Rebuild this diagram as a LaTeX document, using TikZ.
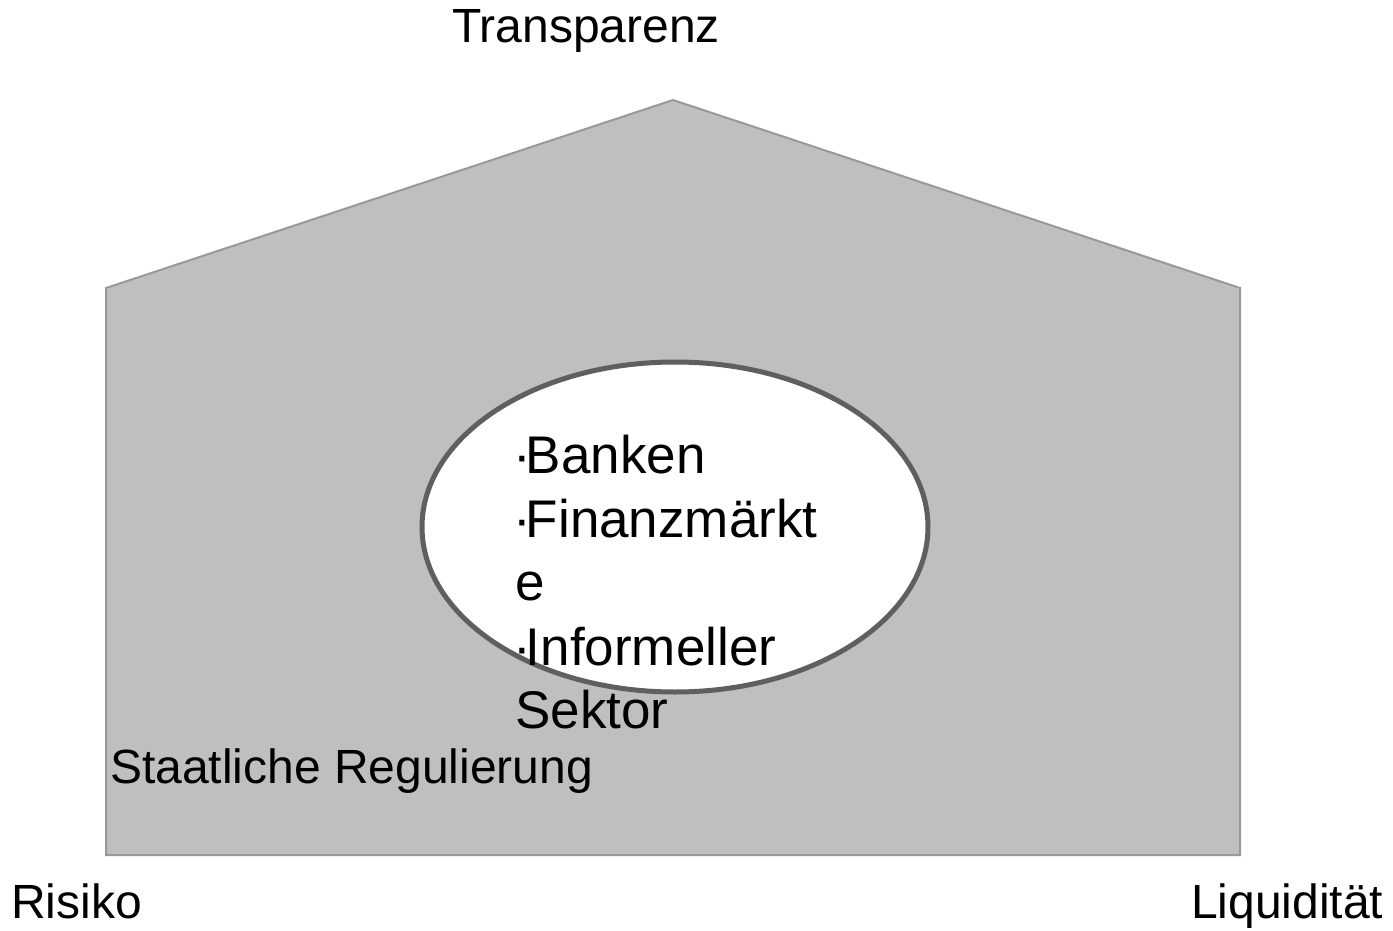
\documentclass[tikz,border=0pt]{standalone}
\usepackage{fontspec}
\setmainfont{Liberation Sans}
\usetikzlibrary{shapes.geometric}
\definecolor{housefill}{HTML}{BFBFBF}
\definecolor{housedraw}{HTML}{999999}
\definecolor{ringdraw}{HTML}{5F5F5F}
\newcommand{\bdot}{·\kern-5pt}
\begin{document}
\begin{tikzpicture}[x=1pt,y=-1pt,
  lbl/.style={inner sep=0pt,anchor=base west,font=\fontsize{48}{56}\selectfont},
  itm/.style={inner sep=0pt,anchor=base west,font=\fontsize{53}{64}\selectfont}]
\useasboundingbox (0,0) rectangle (1393,931);
\coordinate (p1) at (106,288);
\coordinate (p2) at (673,100);
\coordinate (p3) at (1240,288);
\coordinate (p4) at (1240,855);
\coordinate (p5) at (106,855);
\path[fill=housefill,draw=housedraw,line width=2pt,line join=miter] (p1) -- (p2) -- (p3) -- (p4) -- (p5) -- cycle;
\node[ellipse,draw=ringdraw,line width=5pt,fill=white,minimum width=506pt,minimum height=330pt,inner sep=0pt] (ring) at (675,527) {};
\node[itm] (i1) at (513,473) {\bdot Banken};
\node[itm] (i2) at (513,537) {\bdot Finanzmärkt};
\node[itm] (i3) at (515,600) {e};
\node[itm] (i4) at (513,665) {\bdot Informeller};
\node[itm] (i5) at (515,728) {Sektor};
\node[lbl] (top) at (452,43) {Transparenz};
\node[lbl] (reg) at (110,783) {Staatliche Regulierung};
\node[lbl] (risk) at (11,918) {Risiko};
\node[lbl] (liq) at (1191,918) {Liquidität};
\end{tikzpicture}
\end{document}
